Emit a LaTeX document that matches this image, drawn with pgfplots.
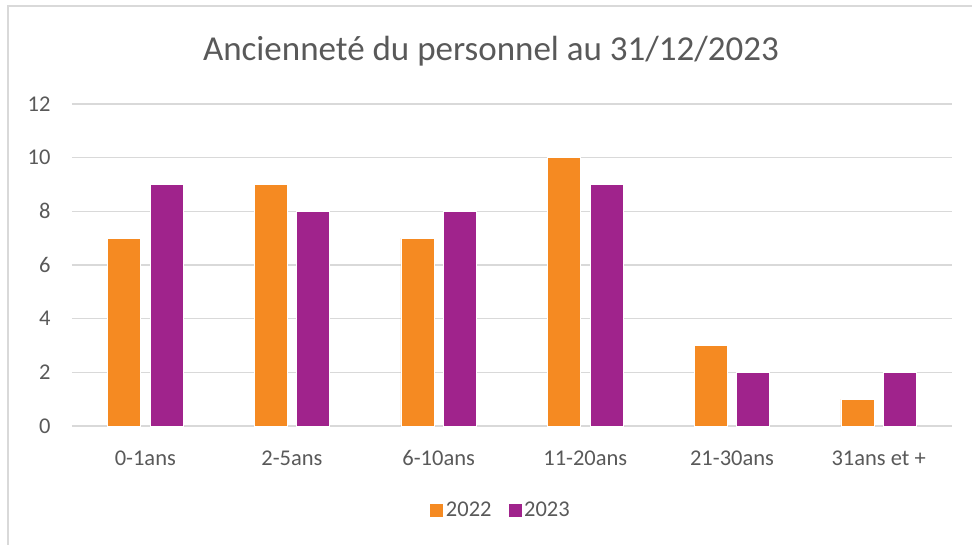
\documentclass[border=0pt]{standalone}
\usepackage{pgfplots}
\pgfplotsset{compat=1.18}
\usepackage{fontspec}
\setmainfont{Carlito}
\definecolor{c22}{HTML}{F58A22}
\definecolor{c23}{HTML}{A0238C}
\definecolor{gridc}{HTML}{D9D9D9}
\definecolor{txt}{HTML}{595959}
\begin{document}
\begin{tikzpicture}[x=1pt,y=1pt]
\useasboundingbox (0,0) rectangle (972,545);
\draw[gridc, line width=1.2pt] (8,0) -- (8,539) -- (972,539);
\node[txt, font=\fontsize{35}{40}\selectfont] at (491,494) {Ancienneté du personnel au 31/12/2023};
\begin{axis}[
  at={(72pt,119pt)}, anchor=south west,
  scale only axis, width=880pt, height=322pt,
  ymin=0, ymax=12, ytick={0,2,...,12},
  xmin=-0.5, xmax=5.5,
  xtick={0,...,5},
  xticklabels={0-1ans,2-5ans,6-10ans,11-20ans,21-30ans,31ans et +},
  ybar=9.5pt, bar width=33pt,
  axis line style={draw=none},
  ymajorgrids, grid style={gridc, line width=1.5pt},
  major tick length=0pt,
  tick label style={txt, font=\fontsize{22.5}{26}\selectfont},
  /pgf/number format/assume math mode=true,
  yticklabel style={xshift=-18pt},
  xticklabel style={yshift=-21pt},
  legend style={at={(0.487,-0.262)}, anchor=center, draw=none, legend columns=2,
    font=\fontsize{22.5}{26}\selectfont, text=txt,
    /tikz/every even column/.append style={column sep=14pt}},
  legend image code/.code={\fill[#1] (0pt,-7pt) rectangle (14pt,7pt);},
  clip=false,
]
\addplot[fill=c22, draw=white, line width=0.6pt] coordinates {(0,7) (1,9) (2,7) (3,10) (4,3) (5,1)};
\addplot[fill=c23, draw=white, line width=0.6pt] coordinates {(0,9) (1,8) (2,8) (3,9) (4,2) (5,2)};
\legend{2022,2023}
\end{axis}
\end{tikzpicture}
\end{document}
